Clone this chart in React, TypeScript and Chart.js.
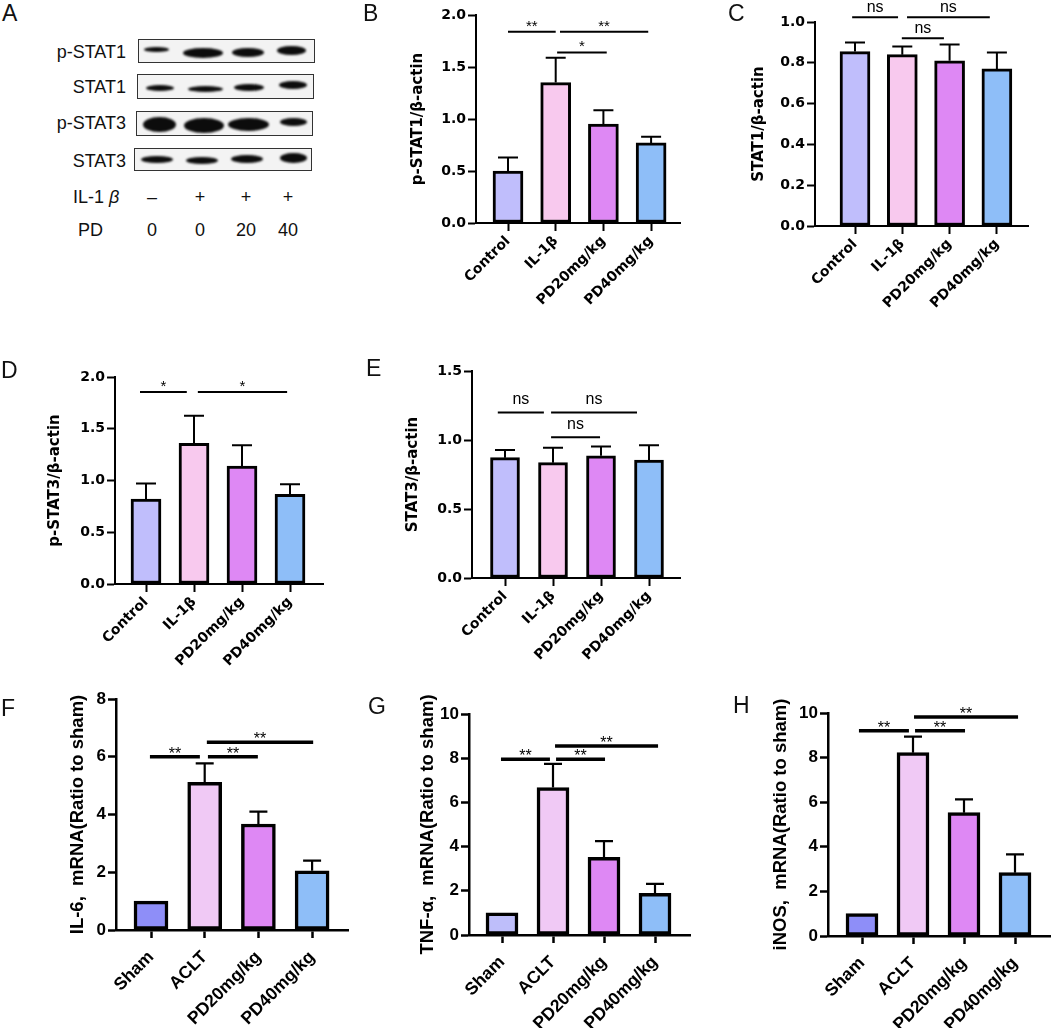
import React, { useEffect, useRef } from "react";
import { Chart, registerables } from "chart.js";

Chart.register(...registerables);

// ---------------- data ----------------
const wbGroups = ["Control", "IL-1β", "PD20mg/kg", "PD40mg/kg"];
const mrnaGroups = ["Sham", "ACLT", "PD20mg/kg", "PD40mg/kg"];

const pSTAT1Mean = [0.5, 1.35, 0.95, 0.77];
const pSTAT1Err = [0.13, 0.24, 0.135, 0.06];
const stat1Mean = [0.855, 0.84, 0.81, 0.77];
const stat1Err = [0.045, 0.04, 0.08, 0.08];
const pSTAT3Mean = [0.82, 1.36, 1.14, 0.866];
const pSTAT3Err = [0.15, 0.265, 0.2, 0.097];
const stat3Mean = [0.872, 0.836, 0.886, 0.855];
const stat3Err = [0.056, 0.108, 0.066, 0.107];
const il6Mean = [1.0, 5.11, 3.67, 2.05];
const il6Err = [0, 0.66, 0.43, 0.35];
const tnfMean = [1.0, 6.67, 3.51, 1.89];
const tnfErr = [0, 1.07, 0.74, 0.42];
const inosMean = [1.0, 8.22, 5.53, 2.84];
const inosErr = [0, 0.72, 0.6, 0.82];

type Sig = { from: number; to: number; y: number; label: string };
const pSTAT1Sig: Sig[] = [
  { from: 0, to: 1.0, y: 1.84, label: "**" },
  { from: 1.09, to: 2.94, y: 1.84, label: "**" },
  { from: 1.03, to: 2.07, y: 1.64, label: "*" },
];
const stat1Sig: Sig[] = [
  { from: -0.06, to: 0.91, y: 1.023, label: "ns" },
  { from: 1.1, to: 2.85, y: 1.023, label: "ns" },
  { from: 0.99, to: 1.88, y: 0.92, label: "ns" },
];
const pSTAT3Sig: Sig[] = [
  { from: -0.125, to: 0.85, y: 1.855, label: "*" },
  { from: 1.08, to: 2.94, y: 1.855, label: "*" },
];
const stat3Sig: Sig[] = [
  { from: -0.15, to: 0.81, y: 1.2, label: "ns" },
  { from: 0.96, to: 2.75, y: 1.2, label: "ns" },
  { from: 0.96, to: 1.98, y: 1.02, label: "ns" },
];
const il6Sig: Sig[] = [
  { from: -0.02, to: 0.91, y: 6.0, label: "**" },
  { from: 1.06, to: 1.99, y: 6.0, label: "**" },
  { from: 1.04, to: 3.02, y: 6.5, label: "**" },
];
const tnfSig: Sig[] = [
  { from: -0.02, to: 0.94, y: 7.95, label: "**" },
  { from: 1.06, to: 2.02, y: 7.95, label: "**" },
  { from: 1.04, to: 3.06, y: 8.55, label: "**" },
];
const inosSig: Sig[] = [
  { from: -0.06, to: 0.92, y: 9.2, label: "**" },
  { from: 1.04, to: 2.02, y: 9.2, label: "**" },
  { from: 1.02, to: 3.06, y: 9.82, label: "**" },
];

// ---------------- styles ----------------
const wbColors = ["#C0BEFC", "#F8C9EE", "#DE88F4", "#8EBEF8"];
const mrnaColorsDark = ["#8E8EF8", "#F0C9F5", "#DE88F4", "#8EBEF8"];
const mrnaColorsLight = ["#BEBEFA", "#F0C9F5", "#DE88F4", "#8EBEF8"];

const SANS = '"Liberation Sans", Arial, Helvetica, sans-serif';
const WIDE = '"DejaVu Sans", "Liberation Sans", sans-serif';

interface PanelCfg {
  box: [number, number, number, number];
  area: [number, number, number, number];
  first: number;
  step: number;
  labels: string[];
  means: number[];
  errors: number[];
  colors: string[];
  yMax: number;
  yStep: number;
  decimals: number;
  title: string;
  titleOffset: number;
  sig: Sig[];
  big: boolean;
  barThickness: number;
  sigGap: number;
}

const small = {
  tickFont: { family: WIDE, size: 14, weight: "bold" as const },
  xFont: { family: WIDE, size: 14, weight: "bold" as const },
  xPad: 2,
  titleFont: `bold 15px ${WIDE}`,
  axisW: 2,
  barW: 3,
  errW: 2,
  cap: 20,
  sigW: 2,
  starFont: `15px ${SANS}`,
  nsFont: `16px ${SANS}`,
};
const large = {
  tickFont: { family: SANS, size: 17, weight: "bold" as const },
  xFont: { family: SANS, size: 17.5, weight: "bold" as const },
  xPad: 9,
  titleFont: `bold 18.5px ${SANS}`,
  axisW: 2.5,
  barW: 3.5,
  errW: 2.2,
  cap: 18,
  sigW: 3.5,
  starFont: `16px ${SANS}`,
  nsFont: `16px ${SANS}`,
};

const annotPlugin = {
  id: "annot",
  afterDatasetsDraw(chart: any, _args: any, opts: any) {
    const { ctx, chartArea } = chart;
    const xs = chart.scales.x;
    const ys = chart.scales.y;
    const meta = chart.getDatasetMeta(0);
    const st = opts.big ? large : small;
    ctx.save();
    ctx.strokeStyle = "#000";
    ctx.fillStyle = "#000";
    ctx.lineCap = "butt";
    // error bars (upper only)
    ctx.lineWidth = st.errW;
    (opts.errors as number[]).forEach((e, i) => {
      if (!e) return;
      const el = meta.data[i];
      const cx = el.x;
      const y0 = ys.getPixelForValue(opts.means[i]);
      const y1 = ys.getPixelForValue(opts.means[i] + e);
      ctx.beginPath();
      ctx.moveTo(cx, y0);
      ctx.lineTo(cx, y1);
      ctx.moveTo(cx - st.cap / 2, y1);
      ctx.lineTo(cx + st.cap / 2, y1);
      ctx.stroke();
    });
    // significance lines
    ctx.lineWidth = st.sigW;
    (opts.sig as Sig[]).forEach((s) => {
      const x0 = xs.getPixelForValue(s.from);
      const x1 = xs.getPixelForValue(s.to);
      const yy = ys.getPixelForValue(s.y);
      ctx.beginPath();
      ctx.moveTo(x0, yy);
      ctx.lineTo(x1, yy);
      ctx.stroke();
      ctx.font = s.label === "ns" ? st.nsFont : st.starFont;
      ctx.textAlign = "center";
      ctx.textBaseline = "alphabetic";
      const gap = s.label === "ns" ? opts.sigGap : opts.big ? -2 : 1;
      ctx.fillText(s.label, (x0 + x1) / 2, yy - gap);
    });
    // y title
    ctx.font = st.titleFont;
    ctx.translate(chartArea.left - opts.titleOffset, (chartArea.top + chartArea.bottom) / 2);
    ctx.rotate(-Math.PI / 2);
    ctx.textAlign = "center";
    ctx.textBaseline = "middle";
    ctx.fillText(opts.title, 0, 0);
    ctx.restore();
  },
};

function buildConfig(cfg: PanelCfg): any {
  const st = cfg.big ? large : small;
  const [bl, bt, bw, bh] = cfg.box;
  const [al, at, ar, ab] = cfg.area;
  const Wy = al - bl;
  const padTop = at - bt;
  const padRight = bl + bw - ar;
  const Hx = bt + bh - ab;
  const xMin = -(cfg.first - al) / cfg.step;
  const xMax = xMin + (ar - al) / cfg.step;
  return {
    type: "bar",
    data: {
      datasets: [
        {
          data: cfg.means.map((v, i) => ({ x: i, y: v })),
          backgroundColor: cfg.colors,
          borderColor: "#000",
          borderWidth: st.barW,
          borderSkipped: false,
          barThickness: cfg.barThickness,
        },
      ],
    },
    options: {
      animation: false,
      responsive: false,
      layout: { padding: { left: 0, top: padTop, right: padRight, bottom: 0 } },
      plugins: {
        legend: { display: false },
        tooltip: { enabled: false },
        annot: {
          errors: cfg.errors,
          means: cfg.means,
          sig: cfg.sig,
          big: cfg.big,
          title: cfg.title,
          titleOffset: cfg.titleOffset,
          sigGap: cfg.sigGap,
        },
      },
      scales: {
        x: {
          type: "linear",
          offset: false,
          min: xMin,
          max: xMax,
          afterBuildTicks: (s: any) => {
            s.ticks = cfg.labels.map((_, i) => ({ value: i }));
          },
          afterFit: (s: any) => {
            s.height = Hx;
          },
          grid: {
            display: true,
            offset: false,
            drawOnChartArea: false,
            drawTicks: true,
            tickLength: 8,
            tickWidth: st.axisW,
            tickColor: "#000",
          },
          border: { display: true, color: "#000", width: st.axisW },
          ticks: {
            autoSkip: false,
            minRotation: 45,
            maxRotation: 45,
            color: "#000",
            padding: st.xPad,
            font: st.xFont,
            callback: (v: number) => cfg.labels[Math.round(v)] ?? "",
          },
        },
        y: {
          type: "linear",
          min: 0,
          max: cfg.yMax,
          afterFit: (s: any) => {
            s.width = Wy;
          },
          grid: {
            display: true,
            drawOnChartArea: false,
            drawTicks: true,
            tickLength: 8,
            tickWidth: st.axisW,
            tickColor: "#000",
          },
          border: { display: true, color: "#000", width: st.axisW },
          ticks: {
            stepSize: cfg.yStep,
            color: "#000",
            padding: 2,
            font: st.tickFont,
            callback: (v: number) => v.toFixed(cfg.decimals),
          },
        },
      },
    },
    plugins: [annotPlugin],
  };
}

function BarPanel({ cfg }: { cfg: PanelCfg }) {
  const ref = useRef<HTMLCanvasElement>(null);
  useEffect(() => {
    const chart = new Chart(ref.current as HTMLCanvasElement, buildConfig(cfg));
    return () => chart.destroy();
  }, []);
  const [l, t, w, h] = cfg.box;
  return (
    <canvas
      ref={ref}
      width={w}
      height={h}
      style={{ position: "absolute", left: l, top: t, width: w, height: h }}
    />
  );
}

const panels: PanelCfg[] = [
  {
    box: [340, 0, 350, 320], area: [476, 15, 680, 223], first: 508, step: 47.7,
    labels: wbGroups, means: pSTAT1Mean, errors: pSTAT1Err, colors: wbColors,
    yMax: 2, yStep: 0.5, decimals: 1, title: "p-STAT1/β-actin", titleOffset: 58,
    sig: pSTAT1Sig, big: false, barThickness: 30, sigGap: 5,
  },
  {
    box: [690, 0, 362, 320], area: [815, 22, 1028, 226], first: 855, step: 47.3,
    labels: wbGroups, means: stat1Mean, errors: stat1Err, colors: wbColors,
    yMax: 1, yStep: 0.2, decimals: 1, title: "STAT1/β-actin", titleOffset: 56,
    sig: stat1Sig, big: false, barThickness: 30, sigGap: 5,
  },
  {
    box: [0, 320, 340, 372], area: [115, 377, 323, 584], first: 146, step: 48,
    labels: wbGroups, means: pSTAT3Mean, errors: pSTAT3Err, colors: wbColors,
    yMax: 2, yStep: 0.5, decimals: 1, title: "p-STAT3/β-actin", titleOffset: 60,
    sig: pSTAT3Sig, big: false, barThickness: 30, sigGap: 5,
  },
  {
    box: [340, 320, 350, 372], area: [472, 371, 680, 578], first: 505, step: 48,
    labels: wbGroups, means: stat3Mean, errors: stat3Err, colors: wbColors,
    yMax: 1.5, yStep: 0.5, decimals: 1, title: "STAT3/β-actin", titleOffset: 59,
    sig: stat3Sig, big: false, barThickness: 29, sigGap: 8,
  },
  {
    box: [0, 660, 360, 368], area: [116, 699, 348, 930], first: 151, step: 53.7,
    labels: mrnaGroups, means: il6Mean, errors: il6Err, colors: mrnaColorsDark,
    yMax: 8, yStep: 2, decimals: 0, title: "IL-6,  mRNA(Ratio to sham)", titleOffset: 38,
    sig: il6Sig, big: true, barThickness: 34, sigGap: 4,
  },
  {
    box: [360, 660, 340, 368], area: [469, 714, 690, 935], first: 502, step: 51,
    labels: mrnaGroups, means: tnfMean, errors: tnfErr, colors: mrnaColorsLight,
    yMax: 10, yStep: 2, decimals: 0, title: "TNF-α,  mRNA(Ratio to sham)", titleOffset: 41,
    sig: tnfSig, big: true, barThickness: 32, sigGap: 4,
  },
  {
    box: [700, 660, 352, 368], area: [828, 713, 1050, 936], first: 862, step: 51,
    labels: mrnaGroups, means: inosMean, errors: inosErr, colors: mrnaColorsDark,
    yMax: 10, yStep: 2, decimals: 0, title: "iNOS,  mRNA(Ratio to sham)", titleOffset: 47,
    sig: inosSig, big: true, barThickness: 32, sigGap: 4,
  },
];

// ---------------- western blot (panel A) ----------------
const blotRows = [
  {
    name: "p-STAT1", box: [138, 39, 177, 24], labelY: 52,
    bands: [[155, 48, 25, 5], [202, 52, 40, 10], [247, 51, 32, 9], [290, 49, 29, 9]],
  },
  {
    name: "STAT1", box: [137, 74, 177, 25], labelY: 87,
    bands: [[159, 87, 28, 6], [204, 88, 35, 6], [248, 86, 30, 7], [292, 84, 28, 8]],
  },
  {
    name: "p-STAT3", box: [136, 111, 177, 25], labelY: 123,
    bands: [[158, 123, 33, 15], [203, 124, 40, 15], [247, 123, 41, 13], [292, 121, 27, 8]],
  },
  {
    name: "STAT3", box: [134, 148, 178, 23], labelY: 161,
    bands: [[156, 158, 32, 7], [201, 159, 32, 7], [246, 158, 32, 8], [292, 157, 27, 10]],
  },
];
const il1Row = ["–", "+", "+", "+"];
const pdRow = ["0", "0", "20", "40"];
const laneX = [152, 200, 246, 288];

function Blot() {
  const txt = { position: "absolute" as const, fontFamily: SANS, fontSize: 18, lineHeight: "20px", color: "#111", whiteSpace: "nowrap" as const };
  return (
    <>
      {blotRows.map((r) => (
        <React.Fragment key={r.name}>
          <div style={{ ...txt, right: 1052 - 126, top: r.labelY - 10, textAlign: "right" }}>{r.name}</div>
          <div
            style={{
              position: "absolute", left: r.box[0], top: r.box[1], width: r.box[2], height: r.box[3],
              boxSizing: "border-box", border: "1.5px solid #333", background: "#f3f3f3", overflow: "hidden",
            }}
          >
            {r.bands.map((b, i) => (
              <div
                key={i}
                style={{
                  position: "absolute", left: b[0] - b[2] / 2 - r.box[0], top: b[1] - b[3] / 2 - r.box[1],
                  width: b[2], height: b[3], borderRadius: "50%", background: "#0c0c0c", filter: "blur(0.8px)",
                }}
              />
            ))}
          </div>
        </React.Fragment>
      ))}
      <div style={{ ...txt, left: 73, top: 187 }}>
        IL-1 <span style={{ fontStyle: "italic" }}>β</span>
      </div>
      <div style={{ ...txt, left: 78, top: 220 }}>PD</div>
      {il1Row.map((s, i) => (
        <div key={"a" + i} style={{ ...txt, left: laneX[i] - 20, width: 40, textAlign: "center", top: 187 }}>{s}</div>
      ))}
      {pdRow.map((s, i) => (
        <div key={"b" + i} style={{ ...txt, left: laneX[i] - 20, width: 40, textAlign: "center", top: 220 }}>{s}</div>
      ))}
    </>
  );
}

const letters: [string, number, number][] = [
  ["A", 2, 2], ["B", 363, 2], ["C", 728, 2], ["D", 1, 359], ["E", 366, 357],
  ["F", 1, 697], ["G", 368, 695], ["H", 733, 694],
];

export default function App() {
  return (
    <div style={{ position: "absolute", left: 0, top: 0, width: 1052, height: 1028, background: "#fff", overflow: "hidden" }}>
      <Blot />
      {panels.map((p, i) => (
        <BarPanel key={i} cfg={p} />
      ))}
      {letters.map(([l, x, y]) => (
        <div key={l} style={{ position: "absolute", left: x, top: y, fontFamily: SANS, fontSize: 23, lineHeight: "23px", color: "#111" }}>
          {l}
        </div>
      ))}
    </div>
  );
}
